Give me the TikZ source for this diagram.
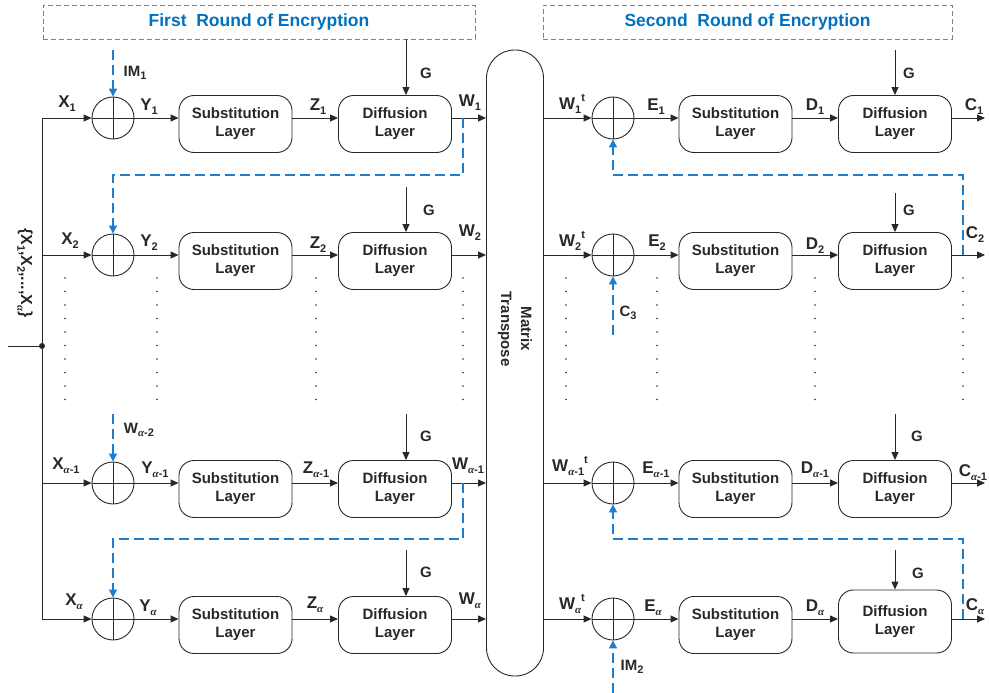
\documentclass[tikz,border=0pt]{standalone}
\usepackage{fontspec}
\setmainfont{Liberation Sans}
\newfontfamily\serifont{Liberation Serif}
\usetikzlibrary{arrows.meta}
\definecolor{ink}{RGB}{40,40,40}
\definecolor{eblue}{RGB}{0,112,192}
\definecolor{dblue}{RGB}{30,125,205}
\newcommand\sub[1]{\raisebox{-0.45ex}{\fontsize{11}{11}\selectfont #1}}
\newcommand\sups[1]{\raisebox{0.9ex}{\fontsize{11}{11}\selectfont #1}}
\newcommand\al{{\serifont\itshape\bfseries α}}
\begin{document}
\begin{tikzpicture}[x=1pt,y=-1pt,
 lab/.style={font=\bfseries\fontsize{17}{19}\selectfont, text=ink, inner sep=0pt},
 slab/.style={font=\bfseries\fontsize{15}{17}\selectfont, text=ink, inner sep=0pt},
 layer/.style={draw=ink, line width=0.9pt, rounded corners=15pt, minimum width=113pt, minimum height=57pt, align=center, font=\bfseries\fontsize{15}{18}\selectfont, text=ink, inner sep=0pt},
 xor/.style={draw=ink, line width=0.9pt, circle, minimum size=42pt, inner sep=0pt, path picture={\draw[ink, line width=0.9pt] (path picture bounding box.north) -- (path picture bounding box.south) (path picture bounding box.west) -- (path picture bounding box.east);}},
 arr/.style={draw=ink, line width=0.9pt, -{Triangle[length=8pt,width=7pt]}},
 plain/.style={draw=ink, line width=0.9pt},
 bdash/.style={draw=dblue, line width=1.3pt, dash pattern=on 10pt off 5pt, -{Triangle[length=8pt,width=8pt,fill=dblue]}},
 roundbox/.style={draw=gray, line width=0.9pt, dash pattern=on 5pt off 3pt, inner sep=0pt, font=\bfseries\fontsize{17.5}{20}\selectfont, text=eblue},
 ]
\useasboundingbox (0,0) rectangle (989,693);

% title boxes
\node[roundbox, minimum width=432pt, minimum height=34pt] (fr) at (259,22) {First\ \ Round of Encryption};
\node[roundbox, minimum width=409pt, minimum height=34pt] (sr) at (747.5,22) {Second\ \ Round of Encryption};

% matrix transpose
\node[draw=ink, line width=0.9pt, rounded corners=28pt, minimum width=57pt, minimum height=626pt, inner sep=0pt] (T) at (515,363) {};
\node[lab, rotate=-90, align=center, font=\bfseries\fontsize{15}{20}\selectfont] (TT) at (515,329) {Matrix\\Transpose};

% rows
\foreach \i/\y/\h/\dy in {1/118/57/6,2/255/57/6,3/483/57/6,4/619/63/2.5}{
  \node[xor] (L\i) at (113,\y) {};
  \node[layer] (S\i) at (235.5,\y+6) {Substitution\\Layer};
  \node[layer] (D\i) at (395,\y+6) {Diffusion\\Layer};
  \node[xor] (R\i) at (613,\y) {};
  \node[layer] (RS\i) at (735.5,\y+6) {Substitution\\Layer};
  \node[layer, minimum height=\h pt] (RD\i) at (895,\y+\dy) {Diffusion\\Layer};
  \coordinate (V\i) at (42,\y);
  \coordinate (O\i) at (985,\y);
  \draw[arr] (V\i) -- (L\i.west);
  \draw[arr] (L\i.east) -- (S\i.west |- L\i.east);
  \draw[arr] (S\i.east |- L\i) -- (D\i.west |- L\i);
  \draw[arr] (D\i.east |- L\i) -- (T.west |- L\i);
  \draw[arr] (T.east |- R\i) -- (R\i.west);
  \draw[arr] (R\i.east) -- (RS\i.west |- R\i);
  \draw[arr] (RS\i.east |- R\i) -- (RD\i.west |- R\i);
  \draw[arr] (RD\i.east |- R\i) -- (O\i);
}

% input bus
\coordinate (IN) at (8,346);
\coordinate (J) at (42,346);
\draw[plain] (V1) -- (V4);
\draw[plain] (IN) -- (J);
\fill[ink] (J) circle (3pt);
\node[lab, rotate=-90, font=\bfseries\fontsize{16}{18}\selectfont] (set) at (25,273) {\{X\sub{1},X\sub{2},...,X\sub{\al}\}};

% G key arrows
\draw[arr] ([xshift=11pt]D1.north |- fr.south) -- ([xshift=11pt]D1.north);
\coordinate (g2) at (406,187); \draw[arr] (g2) -- ([xshift=11pt]D2.north);
\coordinate (g3) at (406,414); \draw[arr] (g3) -- ([xshift=11pt]D3.north);
\coordinate (g4) at (406,550); \draw[arr] (g4) -- ([xshift=11pt]D4.north);
\coordinate (h1) at (895,50);  \draw[arr] (h1) -- (RD1.north);
\coordinate (h2) at (895,193); \draw[arr] (h2) -- (RD2.north);
\coordinate (h3) at (895,414); \draw[arr] (h3) -- (RD3.north);
\coordinate (h4) at (895,550); \draw[arr] (h4) -- (RD4.north);

% dotted columns
\foreach \x in {65,157,316,463,566,657,815,963}
  \foreach \k in {0,...,9}
    \fill[ink] (\x,278+13.5*\k) circle (0.8pt);

% blue dashed links
\coordinate (im1) at (113,50);  \draw[bdash] (im1) -- (L1.north);
\coordinate (f1) at (463,118);  \draw[bdash] (f1) -- ++(0,57) -| (L2.north);
\coordinate (wa) at (113,414);  \draw[bdash] (wa) -- (L3.north);
\coordinate (f3) at (463,483);  \draw[bdash] (f3) -- ++(0,56) -| (L4.north);
\coordinate (f2) at (963,255);  \draw[bdash] (f2) -- ++(0,-80) -| (R1.south);
\coordinate (f4) at (963,619);  \draw[bdash] (f4) -- ++(0,-80) -| (R3.south);
\coordinate (c3) at (613,335);  \draw[bdash] (c3) -- (R2.south);
\coordinate (im2) at (613,693); \draw[bdash] (im2) -- (R4.south);

% labels left
\node[slab] (tIM1) at (135,73) {IM\sub{1}};
\node[slab] (tWa2) at (139,430) {W\sub{\al-2}};
\node[lab] (tX1) at (67,104) {X\sub{1}};
\node[lab] (tY1) at (149,107) {Y\sub{1}};
\node[lab] (tZ1) at (318,107) {Z\sub{1}};
\node[lab] (tW1) at (470,103) {W\sub{1}};
\node[lab] (tX2) at (70,241) {X\sub{2}};
\node[lab] (tY2) at (149,243) {Y\sub{2}};
\node[lab] (tZ2) at (318,245) {Z\sub{2}};
\node[lab] (tW2) at (470,233) {W\sub{2}};
\node[lab] (tX3) at (66,466) {X\sub{\al-1}};
\node[lab] (tY3) at (155,470) {Y\sub{\al-1}};
\node[lab] (tZ3) at (316,470) {Z\sub{\al-1}};
\node[lab] (tW3) at (468,466) {W\sub{\al-1}};
\node[lab] (tX4) at (74,602) {X\sub{\al}};
\node[lab] (tY4) at (148,608) {Y\sub{\al}};
\node[lab] (tZ4) at (315,605) {Z\sub{\al}};
\node[lab] (tW4) at (470,601) {W\sub{\al}};
\foreach \n/\x/\y in {a/426/73,b/429/210,c/426/436,d/426/572}
  \node[slab] (tG\n) at (\x,\y) {G};

% labels right
\node[lab] (tW1t) at (572,104) {W\sub{1}\sups{t}};
\node[lab] (tE1) at (656,107) {E\sub{1}};
\node[lab] (tD1) at (815,107) {D\sub{1}};
\node[lab] (tC1) at (974,107) {C\sub{1}};
\node[lab] (tW2t) at (572,241) {W\sub{2}\sups{t}};
\node[lab] (tE2) at (657,243) {E\sub{2}};
\node[lab] (tD2) at (815,246) {D\sub{2}};
\node[lab] (tC2) at (975,235) {C\sub{2}};
\node[slab] (tC3) at (628,313) {C\sub{3}};
\node[lab] (tW3t) at (570,466) {W\sub{\al-1}\sups{t}};
\node[lab] (tE3) at (656,470) {E\sub{\al-1}};
\node[lab] (tD3) at (815,470) {D\sub{\al-1}};
\node[lab] (tC3b) at (973,473) {C\sub{\al-1}};
\node[lab] (tW4t) at (572,604) {W\sub{\al}\sups{t}};
\node[lab] (tE4) at (653,608) {E\sub{\al}};
\node[lab] (tD4) at (815,608) {D\sub{\al}};
\node[lab] (tC4) at (975,607) {C\sub{\al}};
\node[slab] (tIM2) at (632,667) {IM\sub{2}};
\foreach \n/\x/\y in {a/909/73,b/909/210,c/917/436,d/918/573}
  \node[slab] (tH\n) at (\x,\y) {G};
\end{tikzpicture}
\end{document}
